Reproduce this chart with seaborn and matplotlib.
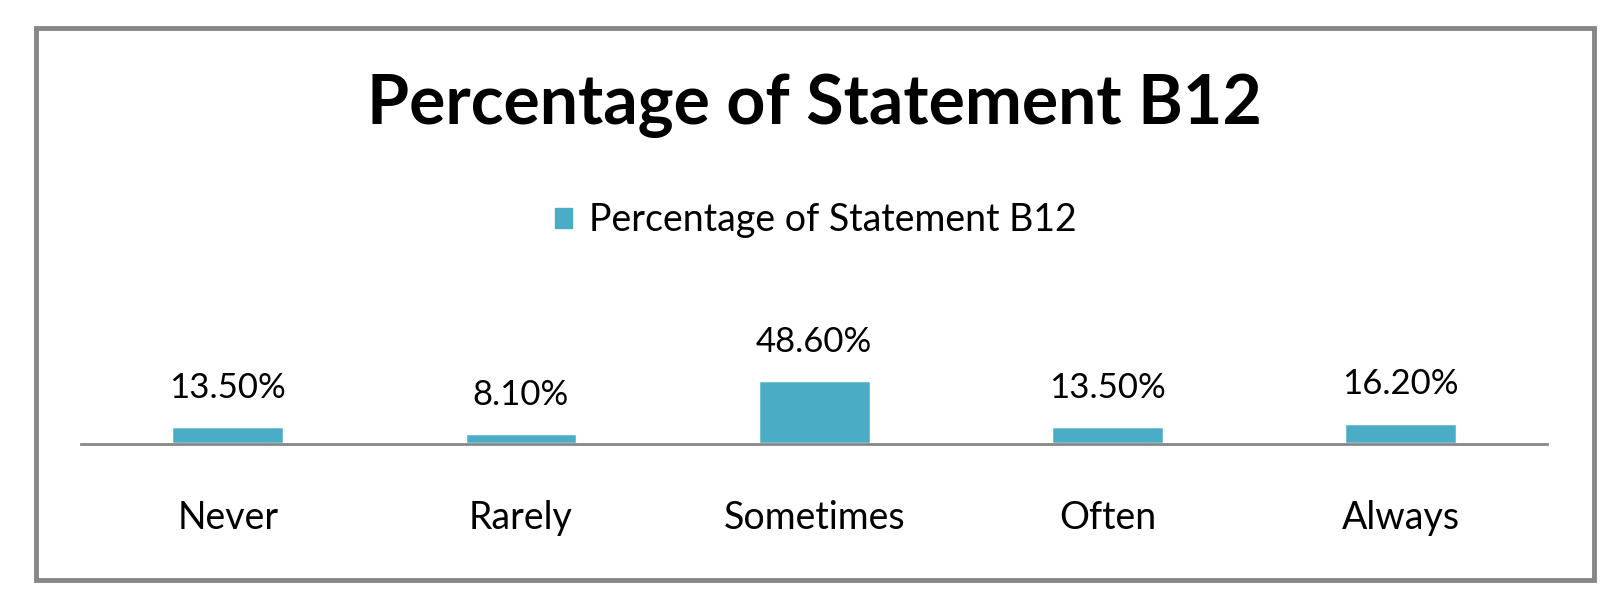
import matplotlib
matplotlib.use('Agg')
import matplotlib.pyplot as plt
import seaborn as sns
import pandas as pd
from matplotlib.patches import Rectangle, Patch

categories = ['Never', 'Rarely', 'Sometimes', 'Often', 'Always']
percentages = [13.5, 8.1, 48.6, 13.5, 16.2]
series_name = 'Percentage of Statement B12'
title = 'Percentage of Statement B12'

bar_color = '#4BACC6'
gray = '#878787'

df = pd.DataFrame({'category': categories, 'pct': percentages})

sns.set_theme(style='white')
plt.rcParams['font.family'] = ['Lato', 'DejaVu Sans']
plt.rcParams['text.color'] = 'black'
plt.rcParams['xtick.color'] = 'black'

fig = plt.figure(figsize=(16.22, 6.05), dpi=100)
ax = fig.add_axes([0.050, 0.266, 0.904, 0.218])

sns.barplot(data=df, x='category', y='pct', color=bar_color, width=0.385,
            edgecolor='white', linewidth=2.5, saturation=1, ax=ax)

ax.set_ylim(0, 100)
ax.set_xlim(-0.5, len(categories) - 0.5)
ax.set_yticks([])
ax.set_xlabel('')
ax.set_ylabel('')
for s in ['top', 'right', 'left']:
    ax.spines[s].set_visible(False)
ax.spines['bottom'].set_color(gray)
ax.spines['bottom'].set_linewidth(2)
ax.tick_params(axis='x', length=0, pad=40, labelsize=27, labelcolor='black')
ax.set_facecolor('none')

ax.bar_label(ax.containers[0], labels=[f'{v:.2f}%' for v in percentages],
             padding=16, fontsize=25, color='black')

fig.text(0.502, 1 - 106 / 605, title, ha='center', va='center',
         fontsize=49, fontweight='bold', color='black')

fig.legend(handles=[Patch(color=bar_color, label=series_name)],
           loc='center', bbox_to_anchor=(0.503, 1 - 220 / 605),
           frameon=False, fontsize=27, handlelength=0.45, handleheight=0.45,
           handletextpad=0.45, labelcolor='black')

fig.patches.append(Rectangle((36 / 1622, 1 - 580 / 605), (1594 - 36) / 1622,
                             (580 - 28) / 605, transform=fig.transFigure,
                             fill=False, edgecolor=gray, linewidth=3.5))

fig.savefig('out.png', dpi=100)
